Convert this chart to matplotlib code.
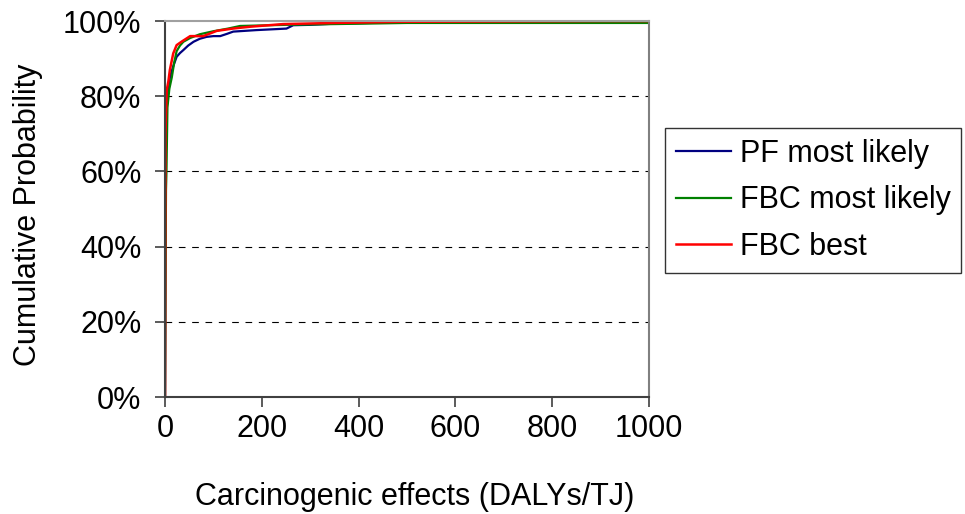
import matplotlib.pyplot as plt
from matplotlib.ticker import PercentFormatter

### DATA ###
pf_x = [0, 1, 3, 6, 10, 17, 24, 31, 38, 48, 59, 72, 86, 100, 114, 128, 141, 165, 189, 220, 251, 265, 300, 348, 420, 520, 620, 800, 1000]
pf_y = [0, 60, 76, 81, 85, 88, 90.5, 91.5, 92.3, 93.5, 94.5, 95.3, 95.8, 96, 96, 96.6, 97.2, 97.4, 97.6, 97.8, 98, 98.9, 99.0, 99.3, 99.5, 99.7, 99.8, 99.9, 100]

fbc_ml_x = [0, 2, 3, 5, 9, 14, 19, 24, 31, 38, 52, 72, 100, 130, 155, 250, 400, 500, 700, 1000]
fbc_ml_y = [0, 55, 60, 77, 82, 85, 89, 92, 93.5, 94.5, 95.5, 96.5, 97.3, 98, 98.7, 99.0, 99.3, 99.5, 99.5, 99.5]

fbc_best_x = [0, 1, 3.5, 7, 10, 17, 24, 34, 52, 79, 107, 140, 176, 244, 350, 485, 700, 900, 1000]
fbc_best_y = [0, 70, 81.6, 84, 87, 91.4, 93.6, 94.5, 96, 96, 97.4, 98, 98.5, 99.2, 99.5, 99.8, 99.9, 100, 100]

labels = ['PF most likely', 'FBC most likely', 'FBC best']
colors = ['#000080', '#008000', '#ff0000']

plt.rcParams['font.family'] = ['Liberation Sans', 'DejaVu Sans']
FS = 22

fig = plt.figure(figsize=(9.65, 5.14), dpi=100)
ax = fig.add_axes([0.171, 0.2276, 0.5015, 0.7314])

ax.plot(pf_x, pf_y, color=colors[0], lw=1.6, label=labels[0])
ax.plot(fbc_ml_x, fbc_ml_y, color=colors[1], lw=1.6, label=labels[1])
ax.plot(fbc_best_x, fbc_best_y, color=colors[2], lw=1.8, label=labels[2])

ax.set_xlim(0, 1000)
ax.set_ylim(0, 100)
ax.set_xticks(range(0, 1001, 200))
ax.set_yticks(range(0, 101, 20))
ax.yaxis.set_major_formatter(PercentFormatter(decimals=0))
ax.tick_params(labelsize=FS, length=7, width=1.2, direction='out', colors='#404040', labelcolor='black')
ax.tick_params(axis='y', pad=10)
ax.tick_params(axis='x', pad=5)

for y in [20, 40, 60, 80]:
    ax.axhline(y, color='black', lw=0.8, ls=(0, (6, 6)), zorder=0)

ax.spines['top'].set_color('#a0a0a0')
ax.spines['right'].set_color('#808080')
ax.spines['left'].set_color('#404040')
ax.spines['bottom'].set_color('#404040')
for s in ax.spines.values():
    s.set_linewidth(1.5)

fig.text(415 / 965, 1 - 497 / 514, 'Carcinogenic effects (DALYs/TJ)', fontsize=FS, ha='center', va='center')
fig.text(28 / 965, 1 - 215 / 514, 'Cumulative Probability', fontsize=FS, rotation=90, ha='center', va='center')

leg = ax.legend(loc='upper left', bbox_to_anchor=(1.033, 0.716), fontsize=FS,
                frameon=True, fancybox=False, edgecolor='black', handlelength=1.8,
                handletextpad=0.3, labelspacing=0.55, borderpad=0.35, borderaxespad=0)
leg.get_frame().set_linewidth(1.0)

fig.savefig('out.png', dpi=100)
